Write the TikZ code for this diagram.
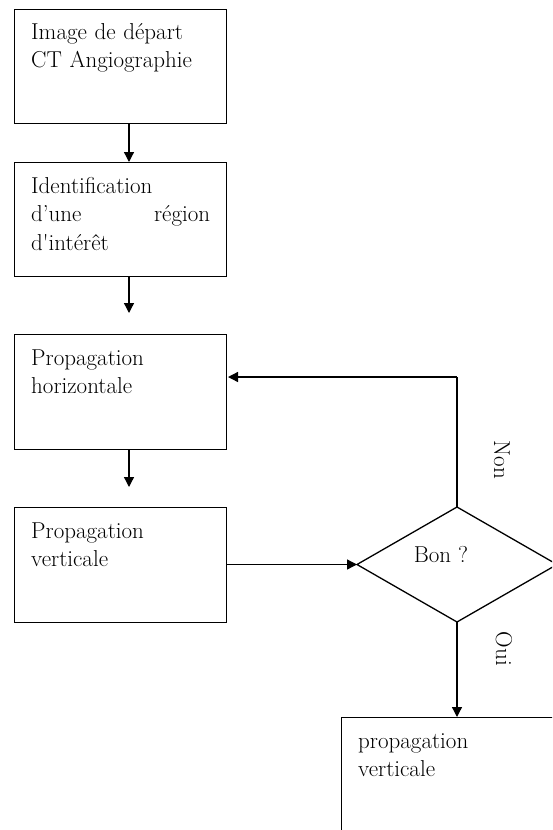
\documentclass[tikz,border=0pt]{standalone}
\usetikzlibrary{arrows.meta}
\begin{document}
\begin{tikzpicture}[x=1pt,y=-1pt,
  box/.style={draw=black,line width=1.3pt,rectangle,inner sep=0pt,minimum width=212pt},
  txt/.style={inner sep=0pt,anchor=base west,text width=180pt,align=left,font=\fontsize{23}{28.5}\selectfont},
  lab/.style={inner sep=0pt,font=\fontsize{23}{25}\selectfont},
  arr/.style={line width=1.3pt,-{Triangle[length=10pt,width=10pt]}},
  ln/.style={line width=1.3pt}]
\useasboundingbox (0,0) rectangle (552,830);
\clip (0,0) rectangle (552,830);
% boxes
\node[box,minimum height=114pt,anchor=north west] (b1) at (14,9) {};
\node[box,minimum height=114pt,anchor=north west] (b2) at (14,162) {};
\node[box,minimum height=115pt,anchor=north west] (b3) at (14,334) {};
\node[box,minimum height=115pt,anchor=north west] (b4) at (14,507) {};
\node[box,minimum height=118pt,anchor=north west] (b5) at (341,717) {};
% diamond
\draw[ln] (357,564.5) coordinate (dl) -- (457,507) coordinate (dn) -- (557,564.5) coordinate (dr) -- (457,622) coordinate (ds) -- cycle;
\node[lab,anchor=base] (bon) at (441,562) {Bon ?};
% texts
\node[txt] (t1) at (31,39) {Image de départ\\CT Angiographie};
\node[txt] (t2) at (31,193) {Identification\\\makebox[179pt][l]{d’une\hfill région}\\d\textquotesingle intérêt};
\node[txt] (t3) at (31,365) {Propagation\\horizontale};
\node[txt] (t4) at (31,538) {Propagation\\verticale};
\node[txt] (t5) at (358,748) {propagation\\verticale};
% connectors
\coordinate (s1) at (129,123);
\coordinate (e1) at (129,162);
\coordinate (s2) at (129,276);
\coordinate (e2) at (129,313);
\coordinate (s3) at (129,449);
\coordinate (e3) at (129,487);
\coordinate (k) at (457,377);
\coordinate (kb) at (228,377);
\draw[arr] (s1) -- (e1);
\draw[arr] (s2) -- (e2);
\draw[arr] (s3) -- (e3);
\draw[arr] (b4.east |- dl) -- (dl);
\draw[ln] (dn) -- (k);
\draw[arr] (k) -- (kb);
\draw[arr] (ds) -- (ds |- b5.north);
% labels
\node[lab,rotate=-90,anchor=base] (non) at (494,460) {Non};
\node[lab,rotate=-90,anchor=base] (oui) at (496,649) {Oui};
\end{tikzpicture}
\end{document}
